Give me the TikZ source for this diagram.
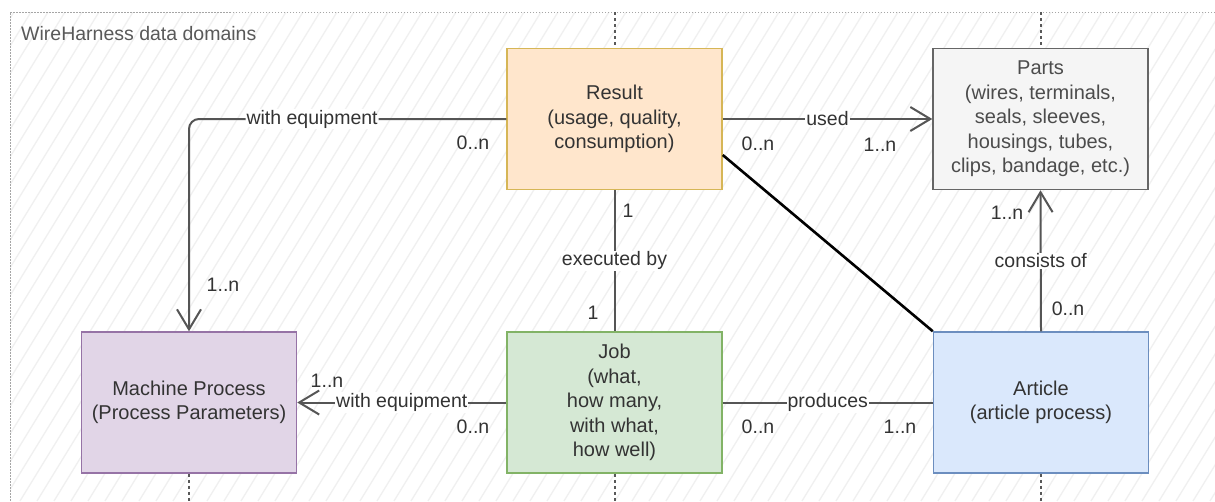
\documentclass[tikz,border=0pt]{standalone}
\usepackage{fontspec}
\setmainfont{Liberation Sans}
\usetikzlibrary{arrows.meta,calc}
\definecolor{txt}{HTML}{333333}
\definecolor{edgecol}{HTML}{555555}
\definecolor{resfill}{HTML}{FFE6CC}\definecolor{resline}{HTML}{D6B656}
\definecolor{partfill}{HTML}{F5F5F5}\definecolor{partline}{HTML}{666666}
\definecolor{mpfill}{HTML}{E1D5E7}\definecolor{mpline}{HTML}{9673A6}
\definecolor{jobfill}{HTML}{D5E8D4}\definecolor{jobline}{HTML}{82B366}
\definecolor{artfill}{HTML}{DAE8FC}\definecolor{artline}{HTML}{6C8EBF}
\begin{document}
\begin{tikzpicture}[x=1pt,y=-1pt,
  box/.style={draw, line width=1.5pt, minimum width=215pt, minimum height=141pt,
    align=center, text=txt, inner sep=2pt, font=\fontsize{20}{24.5}\selectfont},
  edge/.style={draw=edgecol, line width=2pt},
  opentip/.style={-{Straight Barb[length=20pt,width=24pt]}},
  lbl/.style={fill=white, inner sep=1pt, text=txt, font=\fontsize{19.5}{22}\selectfont},
  mult/.style={inner sep=0pt, text=txt, font=\fontsize{19.5}{22}\selectfont},
  hatch/.style={draw=black!6, line width=1.3pt},
  frame/.style={draw=black!35, line width=1pt, dash pattern=on 1.5pt off 1.5pt},
  stub/.style={draw=black!65, line width=2pt, dash pattern=on 3pt off 3pt}
]
\useasboundingbox (0,0) rectangle (1215,501);
\fill[white] (0,0) rectangle (1215,501);

% hatched container background
\begin{scope}
  \clip (10,12) rectangle (1215,501);
  \foreach \k in {-320,-303,...,1215}
    \draw[hatch] (\k,501) -- (\k+300,12);
\end{scope}
\draw[frame] (1215,12) -- (10,12) -- (10,501);
\node[anchor=west, inner sep=0pt, text=black!65, font=\fontsize{19.5}{22}\selectfont]
  (title) at (21,34) {WireHarness data domains};

% entities
\node[box, fill=resfill, draw=resline] (result) at (614.5,119)
  {Result\\(usage, quality,\\consumption)};
\node[box, fill=partfill, draw=partline, text=black!70] (parts) at (1040.5,119)
  {Parts\\(wires, terminals,\\seals, sleeves,\\housings, tubes,\\clips, bandage, etc.)};
\node[box, fill=mpfill, draw=mpline] (mp) at (189,402.5)
  {Machine Process\\(Process Parameters)};
\node[box, fill=jobfill, draw=jobline] (job) at (614.5,402.5)
  {Job\\(what,\\how many,\\with what,\\how well)};
\node[box, fill=artfill, draw=artline] (article) at (1041,402.5)
  {Article\\(article process)};

% dashed lane stubs
\coordinate (t1) at (result.north |- 0,12);
\coordinate (t2) at (parts.north |- 0,12);
\coordinate (b1) at (mp.south |- 0,501);
\coordinate (b2) at (job.south |- 0,501);
\coordinate (b3) at (article.south |- 0,501);
\draw[stub] (t1) -- (result.north);
\draw[stub] (t2) -- (parts.north);
\draw[stub] (mp.south) -- (b1);
\draw[stub] (job.south) -- (b2);
\draw[stub] (article.south) -- (b3);

% relations
\draw[edge, opentip, rounded corners=10pt] (result.west) -| (mp.north)
  node[lbl, pos=0.306] {with equipment};
\draw[edge, opentip] (result.east) -- (parts.west) node[lbl, midway] {used};
\draw[edge] (result.south) -- (job.north) node[lbl, midway] {executed by};
\draw[edge, opentip] (job.west) -- (mp.east) node[lbl, midway] {with equipment};
\draw[edge] (job.east) -- (article.west) node[lbl, midway] {produces};
\draw[edge, opentip] (article.north) -- (parts.south) node[lbl, midway] {consists of};
\draw[black, line width=2.6pt] ($(result.east)+(0,36)$) -- (article.north west);

% multiplicities
\node[mult] (m1) at (473,143) {0..n};
\node[mult] (m2) at (223,285) {1..n};
\node[mult] (m3) at (758,144) {0..n};
\node[mult] (m4) at (880,145) {1..n};
\node[mult] (m5) at (628,211) {1};
\node[mult] (m6) at (593,313) {1};
\node[mult] (m7) at (327,381) {1..n};
\node[mult] (m8) at (473,427) {0..n};
\node[mult] (m9) at (758,427) {0..n};
\node[mult] (m10) at (900,427) {1..n};
\node[mult] (m11) at (1007,213) {1..n};
\node[mult] (m12) at (1068,309) {0..n};
\end{tikzpicture}
\end{document}
